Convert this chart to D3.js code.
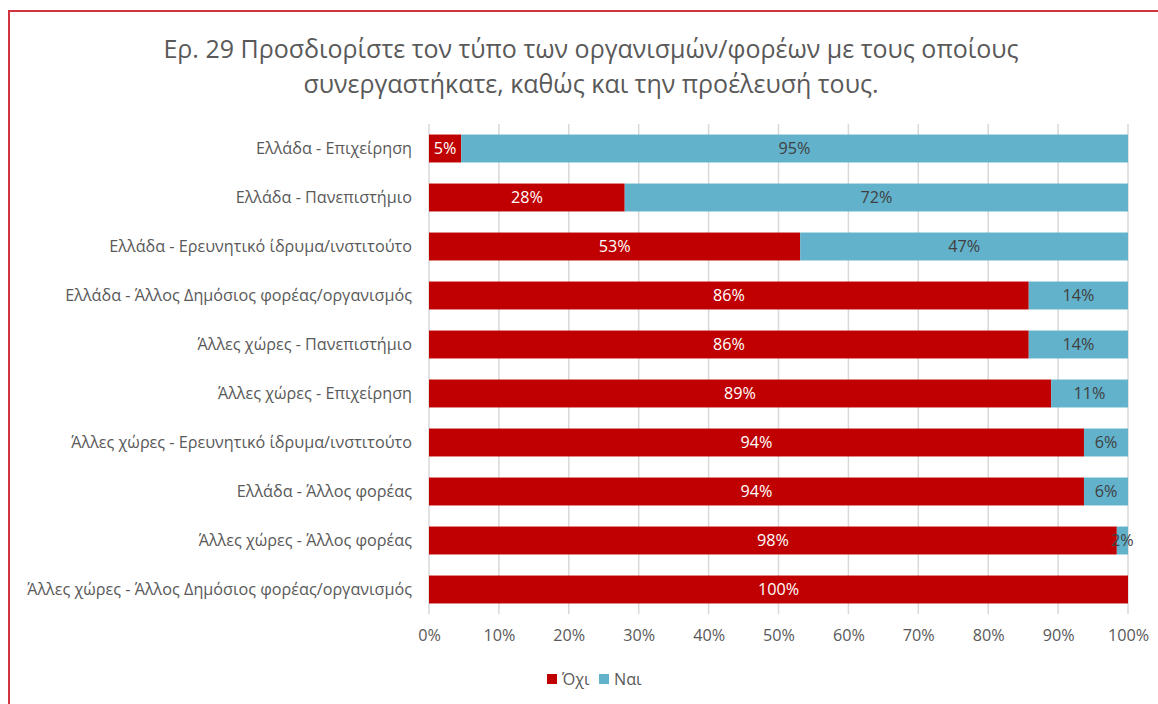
<!DOCTYPE html>
<html><head><meta charset="utf-8">
<script src="https://cdn.jsdelivr.net/npm/d3@7"></script>
<style>body{margin:0;background:#fff}svg{display:block}</style>
</head><body>
<script>
const categories = [
  "Ελλάδα - Επιχείρηση",
  "Ελλάδα - Πανεπιστήμιο",
  "Ελλάδα - Ερευνητικό ίδρυμα/ινστιτούτο",
  "Ελλάδα - Άλλος Δημόσιος φορέας/οργανισμός",
  "Άλλες χώρες - Πανεπιστήμιο",
  "Άλλες χώρες - Επιχείρηση",
  "Άλλες χώρες - Ερευνητικό ίδρυμα/ινστιτούτο",
  "Ελλάδα - Άλλος φορέας",
  "Άλλες χώρες - Άλλος φορέας",
  "Άλλες χώρες - Άλλος Δημόσιος φορέας/οργανισμός"
];
const noValues  = [4.6, 28.0, 53.1, 85.8, 85.8, 89.0, 93.7, 93.7, 98.4, 100];
const yesValues = [95.4, 72.0, 46.9, 14.2, 14.2, 11.0, 6.3, 6.3, 1.6, 0];
const noLabels  = ["5%","28%","53%","86%","86%","89%","94%","94%","98%","100%"];
const yesLabels = ["95%","72%","47%","14%","14%","11%","6%","6%","2%",""];
const seriesNames = ["Όχι","Ναι"];
const tickValues = [0,10,20,30,40,50,60,70,80,90,100];
const titleLines = ["Ερ. 29 Προσδιορίστε τον τύπο των οργανισμών/φορέων με τους οποίους",
                    "συνεργαστήκατε, καθώς και την προέλευσή τους."];

const W = 1158, H = 704;
const colors = ["#c00000", "#62b2cb"];
const font = "'Open Sans', 'Noto Sans', sans-serif";
const fs = 16.2;
const svg = d3.select("body").append("svg").attr("width", W).attr("height", H);

// border
svg.append("rect").attr("x", 9).attr("y", 11).attr("width", W + 20).attr("height", H + 20)
  .attr("fill", "none").attr("stroke", "#d0343d").attr("stroke-width", 2);

// title
svg.append("g").selectAll("text").data(titleLines).join("text")
  .attr("x", 591).attr("y", (d, i) => 58 + i * 35)
  .attr("text-anchor", "middle").attr("font-family", font).attr("font-size", 25)
  .attr("fill", "#595959").text(d => d);

const x = d3.scaleLinear().domain([0, 100]).range([429, 1128]);
const y = d3.scaleBand().domain(categories).range([124, 614]).paddingInner(0.43).paddingOuter(0.215);

// gridlines
svg.append("g").selectAll("line").data(tickValues).join("line")
  .attr("x1", d => x(d)).attr("x2", d => x(d)).attr("y1", 124).attr("y2", 614)
  .attr("stroke", "#d9d9d9").attr("stroke-width", 1.5);

// x axis labels
const xAxis = d3.axisBottom(x).tickValues(tickValues).tickFormat(d => d + "%").tickSize(0).tickPadding(0);
const gx = svg.append("g").attr("transform", "translate(0,629)").call(xAxis);
gx.select(".domain").remove();
gx.selectAll("text").attr("font-family", font).attr("font-size", fs).attr("fill", "#595959").attr("dy", "0.71em");

// y axis labels
const yAxis = d3.axisLeft(y).tickSize(0).tickPadding(0);
const gy = svg.append("g").attr("transform", "translate(412,0)").call(yAxis);
gy.select(".domain").remove();
gy.selectAll("text").attr("font-family", font).attr("font-size", fs).attr("fill", "#595959");

const rows = categories.map((c, i) => ({c, no: noValues[i], yes: yesValues[i], nl: noLabels[i], yl: yesLabels[i]}));
const stack = d3.stack().keys(["no", "yes"])(rows);

const layers = svg.append("g").selectAll("g").data(stack).join("g").attr("fill", (d, i) => colors[i]);
layers.selectAll("rect").data(d => d).join("rect")
  .attr("x", d => x(d[0])).attr("width", d => x(d[1]) - x(d[0]))
  .attr("y", d => y(d.data.c)).attr("height", y.bandwidth());

// labels
const lab = svg.append("g").attr("font-family", font).attr("font-size", fs).attr("text-anchor", "middle");
stack.forEach((layer, li) => {
  lab.append("g").selectAll("text").data(layer).join("text")
    .attr("x", d => (x(d[0]) + x(d[1])) / 2)
    .attr("y", d => y(d.data.c) + y.bandwidth() / 2).attr("dy", "0.35em")
    .attr("fill", li === 0 ? "#ffffff" : "#404040")
    .text(d => li === 0 ? d.data.nl : d.data.yl);
});

// legend
const leg = svg.append("g").attr("font-family", font).attr("font-size", fs).attr("fill", "#595959");
const legX = [547, 599];
seriesNames.forEach((n, i) => {
  leg.append("rect").attr("x", legX[i]).attr("y", 674).attr("width", 10).attr("height", 10).attr("fill", colors[i]);
  leg.append("text").attr("x", legX[i] + 15).attr("y", 679).attr("dy", "0.35em").text(n);
});
</script>
</body></html>
